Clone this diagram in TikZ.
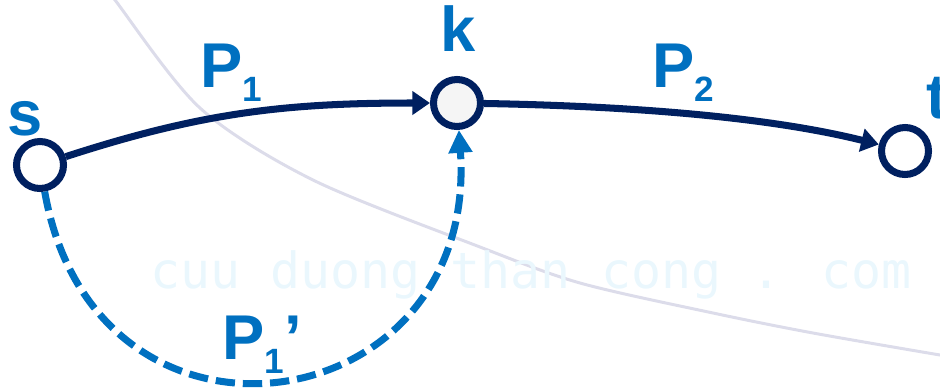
\documentclass[tikz,border=0pt]{standalone}
\usepackage{fontspec}
\setmainfont{Liberation Sans}
\newfontfamily\markfont{DejaVu Sans Mono}
\usetikzlibrary{arrows.meta}
\definecolor{PathNavy}{HTML}{002060}
\definecolor{LabelBlue}{HTML}{0070C0}
\definecolor{ArcGray}{HTML}{DCDCEA}
\definecolor{MarkCyan}{HTML}{EAF7FD}
\newcommand{\pathlbl}[1]{\raisebox{-8.5pt}{\fontsize{20}{20}\selectfont #1}}
\tikzset{
  vertex/.style={circle, draw=PathNavy, line width=4pt, minimum size=0.94cm, inner sep=0pt, fill=white},
  vertexlbl/.style={text=LabelBlue, font=\fontsize{36}{36}\selectfont\bfseries, inner sep=0pt},
  pathname/.style={text=LabelBlue, font=\fontsize{36}{36}\selectfont\bfseries, inner sep=0pt, anchor=base west},
  solidpath/.style={draw=PathNavy, line width=4pt, -{Triangle[length=10pt,width=13pt]}},
  altpath/.style={draw=LabelBlue, line width=4pt, dash pattern=on 11pt off 4.5pt, -{Triangle[length=13pt,width=13pt]}}
}

\begin{document}
\begin{tikzpicture}
  \useasboundingbox (0,0) rectangle (18.8,7.78);
  % faint background
  \draw[ArcGray, line width=1.7pt] plot[smooth] coordinates {(2.0,8.2) (2.3,7.78) (4.0,5.62) (6.26,4.18) (9.6,2.84) (11.6,2.12) (14.26,1.52) (16.26,1.12) (18.8,0.68) (19.2,0.62)};
  \node[text=MarkCyan, font=\markfont\fontsize{28.4}{28.4}\selectfont, anchor=base west, inner sep=0pt] (mark) at (3.0,2.02) {cuu duong than cong . com};

  % vertices
  \node[vertex] (s) at (0.8,4.48) {};
  \node[vertex, fill=gray!8] (k) at (9.14,5.72) {};
  \node[vertex] (t) at (18.1,4.76) {};
  \node[vertexlbl] (slbl) at (0.5,5.4) {s};
  \node[vertexlbl] (klbl) at (9.16,7.2) {k};
  \node[vertexlbl] (tlbl) at (18.74,5.82) {t};

  % paths
  \draw[solidpath] (s) to[out=18,in=180] (k);
  \draw[solidpath] (k) to[out=-1,in=166,looseness=0.8] (t);
  \draw[altpath] (s) to[out=-80,in=-86,looseness=1.8] (k);

  \node[pathname] (p1) at (4.0,6.04) {P\pathlbl{1}};
  \node[pathname] (p2) at (13.04,6.04) {P\pathlbl{2}};
  \node[pathname] (p1alt) at (4.44,0.6) {P\pathlbl{1}’};
\end{tikzpicture}
\end{document}
